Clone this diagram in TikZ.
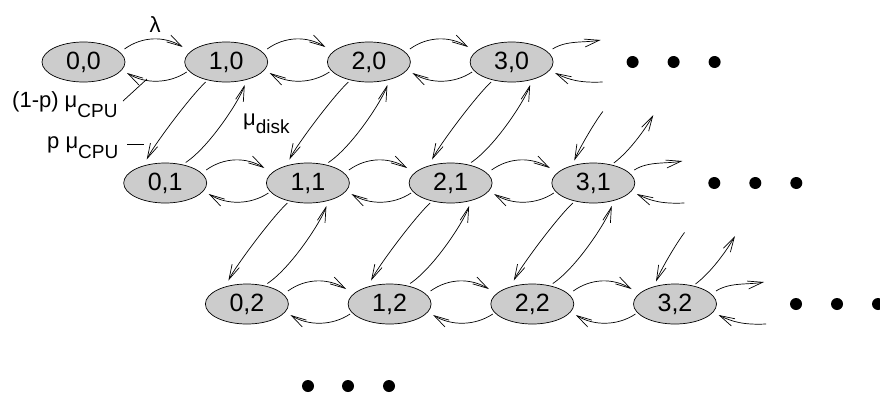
\documentclass[tikz,border=0pt]{standalone}
\usepackage{fontspec}
\setmainfont{Liberation Sans}
\usetikzlibrary{shapes.geometric,arrows.meta,calc}
\newcommand\nodefnt{\fontsize{25}{29}\selectfont}
\newcommand\lblfnt{\fontsize{22}{26}\selectfont}
\newcommand\subsc[2]{\raisebox{#1}{\fontsize{19}{22}\selectfont #2}}
\tikzset{
  st/.style={ellipse, draw, line width=0.7pt, fill=black!20, minimum width=83pt, minimum height=40pt, inner sep=0pt, font=\nodefnt},
  arr/.style={-{Straight Barb[length=15pt,width=8pt]}, line width=0.7pt},
  bigdot/.style={circle, fill=black, minimum size=12pt, inner sep=0pt},
  lbl/.style={inner sep=0pt, font=\lblfnt},
  lead/.style={line width=0.7pt}
}
\begin{document}
\begin{tikzpicture}[x=1pt,y=-1pt]
\useasboundingbox (0,0) rectangle (880,394);
% states
\foreach \i in {0,...,3}{
  \foreach \j in {0,...,2}{
    \node[st] (n\i\j) at ({83.5+142.7*\i+81.7*\j},{62+121*\j}) {\i,\j};
  }
}
% horizontal arrows
\foreach \j in {0,...,2}{
  \foreach \i/\k in {0/1,1/2,2/3}{
    \draw[arr] ($(n\i\j)+(41,-13)$) .. controls +(18,-13) and +(-18,-11) .. ($(n\k\j)+(-43.5,-15)$);
    \draw[arr] ($(n\k\j)+(-39.5,10)$) .. controls +(-18,12) and +(18,11) .. ($(n\i\j)+(43.5,11)$);
  }
  % right stubs
  \coordinate (fo\j) at ($(n3\j)+(89,-22)$);
  \coordinate (bo\j) at ($(n3\j)+(91,20)$);
  \draw[arr] ($(n3\j)+(41,-13)$) .. controls +(14,-9) and +(-16,3) .. (fo\j);
  \draw[arr] (bo\j) .. controls +(-22,1) and +(14,7) .. ($(n3\j)+(43.5,11)$);
}
% diagonal arrows
\foreach \j/\l in {0/1,1/2}{
  \foreach \h/\i in {0/1,1/2,2/3}{
    \draw[arr] ($(n\i\j)+(-20.5,20)$) .. controls +(-16,15) and +(7,-14) .. ($(n\h\l)+(-18.5,-23.5)$);
    \draw[arr] ($(n\h\l)+(20.5,-20.5)$) .. controls +(24,-16) and +(-5,15) .. ($(n\i\j)+(18.5,23)$);
  }
  % stubs above the last node
  \coordinate (ds\l) at ($(n3\l)+(9.5,-71.5)$);
  \coordinate (us\l) at ($(n3\l)+(60,-68)$);
  \draw[arr] (ds\l) .. controls +(-9,12) and +(5,-12) .. ($(n3\l)+(-19,-22.5)$);
  \draw[arr] ($(n3\l)+(20.5,-20)$) .. controls +(16,-12) and +(-8,14) .. (us\l);
}
% ellipsis dots
\foreach \j in {0,...,2}{
  \node[bigdot] (d\j a) at ($(n3\j)+(121,0)$) {};
  \node[bigdot] (d\j b) at ($(n3\j)+(162,0)$) {};
  \node[bigdot] (d\j c) at ($(n3\j)+(203,0)$) {};
}
\node[bigdot] (da) at (308,386) {};
\node[bigdot] (db) at (348,386) {};
\node[bigdot] (dc) at (389,386) {};
% labels
\node[lbl] (lam) at (155,25) {λ};
\node[lbl, anchor=base west] (l1p) at (12,107) {(1-p) μ\subsc{-10pt}{CPU}};
\node[lbl, anchor=base west] (lp) at (47,148) {p μ\subsc{-10pt}{CPU}};
\node[lbl, anchor=base west] (lmd) at (243,125) {μ\subsc{-8pt}{disk}};
\coordinate (a1) at (123,101);
\coordinate (a2) at (147,79);
\coordinate (b1) at (127,144);
\coordinate (b2) at (144,144);
\draw[lead] (a1) -- (a2);
\draw[lead] (b1) -- (b2);
\end{tikzpicture}
\end{document}
